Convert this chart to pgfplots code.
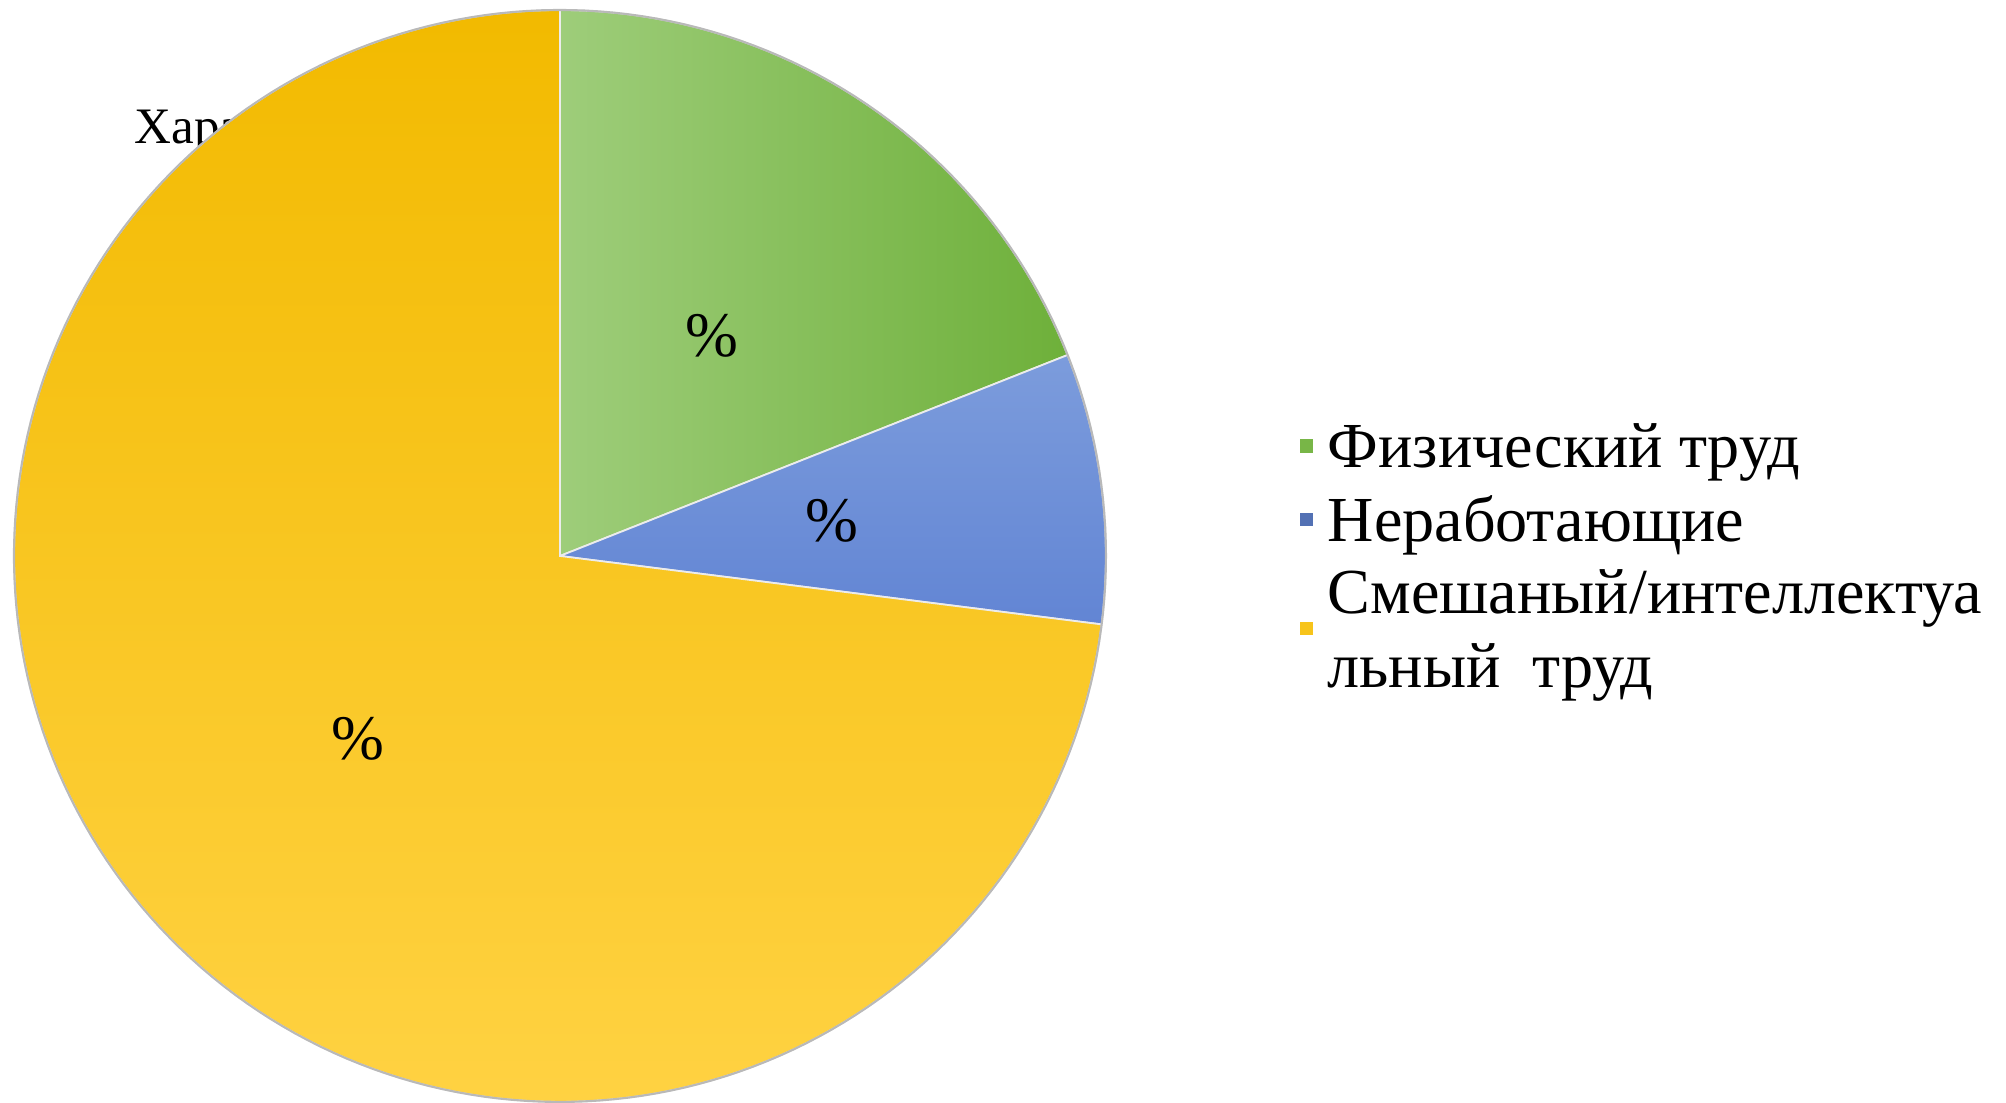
\documentclass[border=0pt]{standalone}
\usepackage{pgfplots}
\pgfplotsset{compat=1.18}
\usepackage{fontspec}
\setmainfont{Liberation Serif}

\definecolor{gLight}{RGB}{158,205,122}
\definecolor{gDark}{RGB}{110,176,58}
\definecolor{bLight}{RGB}{124,156,220}
\definecolor{bDark}{RGB}{98,133,212}
\definecolor{yTop}{RGB}{242,186,0}
\definecolor{yMid}{RGB}{255,200,10}
\definecolor{yBot}{RGB}{255,210,66}
\definecolor{edge}{RGB}{185,185,185}

% shares, percent
\def\vA{19}% Физический труд
\def\vB{8}%  Неработающие
\def\vC{73}% Смешаный/интеллектуальный труд
\pgfmathsetmacro\aZero{90}
\pgfmathsetmacro\aOne{90-3.6*\vA}
\pgfmathsetmacro\aTwo{\aOne-3.6*\vB}
\pgfmathsetmacro\aThree{\aTwo-3.6*\vC}

\begin{document}
\begin{tikzpicture}
% title (mostly hidden behind the pie, as in the reference)
\node[anchor=base west, inner sep=0pt, font=\fontsize{14.5}{17}\selectfont] at (1.336cm,9.55cm) {Характер труда};
\begin{axis}[
  at={(0,0)}, anchor=south west,
  scale only axis, width=20cm, height=10.977cm,
  xmin=-1.0256, xmax=2.6484, ymin=-0.9982, ymax=1.0183,
  hide axis, clip=false,
]
\path (rel axis cs:0,0) rectangle (rel axis cs:1,1);
\addplot[draw=white!85!gray, line width=0.5pt, left color=gLight, right color=gDark,
  domain=\aOne:\aZero, samples=50, variable=\t] ({cos(\t)},{sin(\t)}) -- (axis cs:0,0) -- cycle;
\addplot[draw=white!85!gray, line width=0.5pt, top color=bLight, bottom color=bDark,
  domain=\aTwo:\aOne, samples=30, variable=\t] ({cos(\t)},{sin(\t)}) -- (axis cs:0,0) -- cycle;
\addplot[draw=white!85!gray, line width=0.5pt, top color=yTop, middle color=yMid, bottom color=yBot,
  domain=\aThree:\aTwo, samples=180, variable=\t] ({cos(\t)},{sin(\t)}) -- (axis cs:0,0) -- cycle;
\addplot[draw=edge, line width=0.6pt, domain=0:360, samples=240, variable=\t] ({cos(\t)},{sin(\t)});
\node[font=\fontsize{18}{20}\selectfont] at (axis cs:0.278,0.403) {\%};
\node[font=\fontsize{18}{20}\selectfont] at (axis cs:0.498,0.064) {\%};
\node[font=\fontsize{18}{20}\selectfont] at (axis cs:-0.370,-0.335) {\%};
\end{axis}
% legend
\fill[gDark!80!gLight] (12.96cm,6.465cm) rectangle ++(0.13cm,0.13cm);
\fill[bDark!85!black] (12.96cm,5.735cm) rectangle ++(0.13cm,0.13cm);
\fill[yTop!60!yBot] (12.96cm,4.645cm) rectangle ++(0.13cm,0.13cm);
\begin{scope}[every node/.style={anchor=base west, inner sep=0pt, font=\fontsize{18.2}{21}\selectfont}]
\node at (13.23cm,6.32cm) {Физический труд};
\node at (13.23cm,5.58cm) {Неработающие};
\node at (13.23cm,4.86cm) {Смешаный/интеллектуа};
\node at (13.23cm,4.12cm) {льный\ \ труд};
\end{scope}
\end{tikzpicture}
\end{document}
